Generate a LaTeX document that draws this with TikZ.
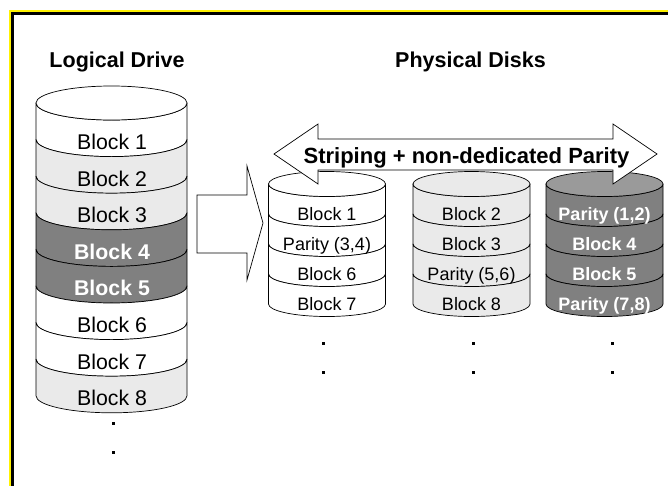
\documentclass[tikz,border=0pt]{standalone}
\usepackage{fontspec}
\usepackage{graphicx}
\setmainfont{Liberation Sans}
\definecolor{lg}{HTML}{EAEAEA}
\definecolor{dg}{HTML}{808080}
\definecolor{tg}{HTML}{9A9A9A}
\newcommand{\cylband}[6]{%
  \path[draw=black, fill=#6, line width=0.7pt, line join=round]
    (#1-#2,#4) arc[start angle=180, end angle=360, x radius=#2pt, y radius=#3pt]
    -- (#1+#2,#5) arc[start angle=0, end angle=-180, x radius=#2pt, y radius=#3pt]
    -- cycle;}
\begin{document}
\begin{tikzpicture}[x=1pt,y=-1pt,
  title/.style={anchor=base, font=\bfseries\fontsize{21.5}{24}\selectfont},
  lbk/.style={anchor=base, font=\fontsize{21.3}{24}\selectfont},
  lbkw/.style={anchor=base, text=white, font=\bfseries\fontsize{21.3}{24}\selectfont},
  rbk/.style={anchor=base, font=\fontsize{18}{21}\selectfont},
  rbkw/.style={anchor=base, text=white, font=\bfseries\fontsize{18}{21}\selectfont},
  arrowshape/.style={draw=black, fill=white, line width=0.7pt, line join=miter},
  dot/.style={fill=black}]
\useasboundingbox (0,0) rectangle (668,485);
\clip (0,0) rectangle (668,485);
\fill[white] (0,0) rectangle (668,485);
% frame
\draw[yellow, line width=2pt] (10,600) -- (10,11) -- (800,11);
\draw[black, line width=3pt] (12.5,600) -- (12.5,13.5) -- (800,13.5);
% titles
\node[title] (tl) at (117,67) {Logical Drive};
\node[title] (tp) at (470.5,67) {Physical Disks};
% left cylinder
\foreach \i/\col in {1/white,2/lg,3/lg,4/dg,5/dg,6/white,7/white,8/lg}{
  \pgfmathsetmacro\ya{103+36.6*(\i-1)}
  \pgfmathsetmacro\yb{103+36.6*\i}
  \cylband{111.5}{75.5}{17}{\ya}{\yb}{\col}
}
\filldraw[fill=white, line width=0.7pt] (111.5,103) ellipse[x radius=75.5pt, y radius=17pt];
\foreach \i/\st/\txt in {1/lbk/Block 1,2/lbk/Block 2,3/lbk/Block 3,4/lbkw/Block 4,5/lbkw/Block 5,6/lbk/Block 6,7/lbk/Block 7,8/lbk/Block 8}{
  \pgfmathsetmacro\yt{103+36.6*(\i-0.5)+17+3.5+7.7}
  \node[\st] (lb\i) at (112,\yt) {\txt};
}
\fill[dot] (111.5,421.5) rectangle (114.5,424.5);
\fill[dot] (111.5,450.5) rectangle (114.5,453.5);
% big arrow
\draw[arrowshape] (197,195) -- (247,195) -- (247,166) -- (263,223) -- (247,280) -- (247,253) -- (197,253) -- cycle;
% right cylinders
\foreach \cx/\col/\top in {327/white/white,471.5/lg/lg,604.5/dg/tg}{
  \foreach \i in {1,2,3,4}{
    \pgfmathsetmacro\ya{184+30*(\i-1)}
    \pgfmathsetmacro\yb{184+30*\i}
    \cylband{\cx}{58.5}{12.5}{\ya}{\yb}{\col}
  }
  \filldraw[fill=\top, line width=0.7pt] (\cx,184) ellipse[x radius=58.5pt, y radius=12.5pt];
}
\node[rbk] (a1) at (327,220) {Block 1};
\node[rbk] (a2) at (327,250) {Parity (3,4)};
\node[rbk] (a3) at (327,280) {Block 6};
\node[rbk] (a4) at (327,310) {Block 7};
\node[rbk] (b1) at (471.5,220) {Block 2};
\node[rbk] (b2) at (471.5,250) {Block 3};
\node[rbk] (b3) at (471.5,280) {Parity (5,6)};
\node[rbk] (b4) at (471.5,310) {Block 8};
\node[rbkw] (c1) at (604.5,220) {Parity (1,2)};
\node[rbkw] (c2) at (604.5,250) {Block 4};
\node[rbkw] (c3) at (604.5,280) {Block 5};
\node[rbkw] (c4) at (604.5,310) {Parity (7,8)};
\foreach \x in {323,473,612}{
  \fill[dot] (\x-1.5,341.5) rectangle (\x+1.5,344.5);
  \fill[dot] (\x-1.5,370.5) rectangle (\x+1.5,373.5);
}
% double arrow
\draw[arrowshape] (274,154) -- (318,124) -- (318,139) -- (613,139) -- (613,124) -- (657,154) -- (613,184) -- (613,170) -- (318,170) -- (318,184) -- cycle;
\node[anchor=base, font=\bfseries\fontsize{22}{25}\selectfont] (st) at (466.5,163) {Striping + non-dedicated Parity};
\end{tikzpicture}
\end{document}
